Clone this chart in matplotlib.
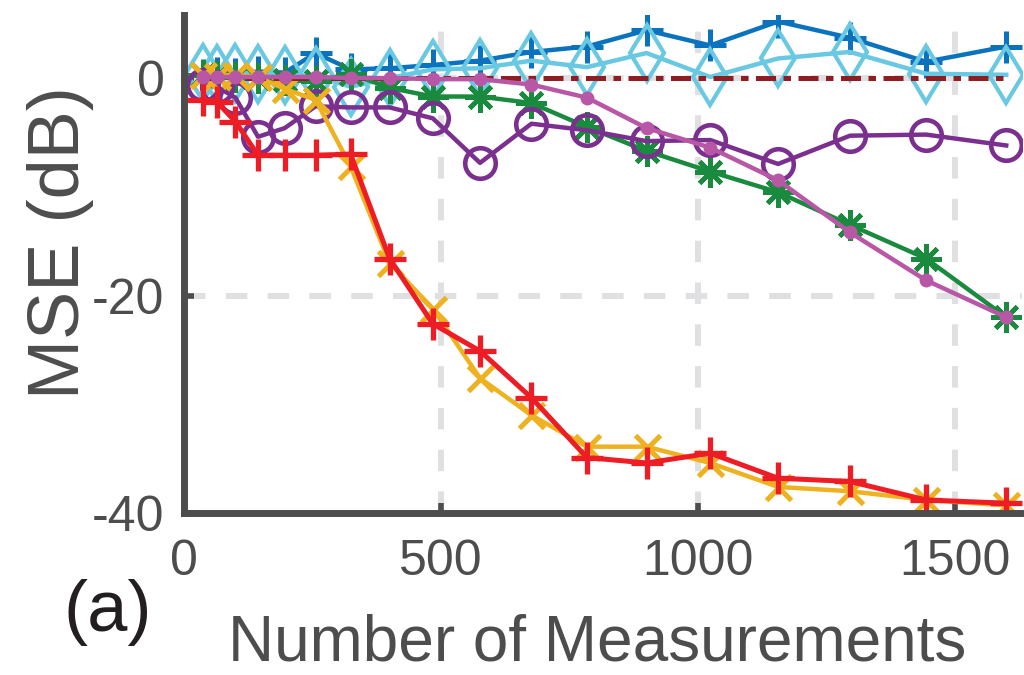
import numpy as np
import matplotlib
matplotlib.use("Agg")
import matplotlib.pyplot as plt

# measurements: m^2 for m = 6, 8, ..., 40
n_meas = [36, 64, 100, 144, 196, 256, 324, 400, 484, 576, 676, 784, 900, 1024,
          1156, 1296, 1444, 1600]

mse_blue = [0.3, 0.5, 0.4, 0.6, 0.5, 2.3, 0.8, 0.9, 1.2, 1.6, 2.4, 2.9, 4.4, 3.0,
            5.2, 3.7, 1.5, 2.9]
mse_cyan = [0.5, 0.4, 0.5, 0.4, 0.3, 0.2, -0.8, 0.0, 0.8, 0.9, 1.6, 1.0, 2.3, 0.1,
            1.8, 2.4, 0.4, 0.3]
mse_green = [0.3, 0.2, 0.1, 0.0, -0.2, -0.3, 0.4, -0.9, -1.7, -1.7, -2.3, -4.5, -6.7,
             -8.6, -10.5, -13.5, -16.6, -22.0]
mse_purple = [-0.6, -0.8, -1.8, -5.4, -4.6, -2.6, -2.7, -2.7, -3.7, -7.8, -4.2, -4.8,
              -5.8, -5.7, -7.9, -5.3, -5.2, -6.2]
mse_yellow = [0.3, 0.2, 0.3, 0.1, -1.0, -2.0, -8.1, -17.0, -21.2, -27.6, -31.0, -33.9,
              -33.9, -35.4, -37.6, -38.0, -38.8, -39.3]
mse_red = [-2.0, -2.2, -4.0, -7.1, -7.1, -7.1, -7.0, -16.6, -22.6, -25.1, -29.4, -34.9,
           -35.4, -34.5, -36.8, -37.1, -38.8, -39.1]
mse_ref = [0.0] * len(n_meas)
mse_pink = [0.1, 0.1, 0.1, 0.1, 0.1, 0.1, 0.0, 0.0, -0.1, -0.1, -0.6, -1.8, -4.6,
            -6.4, -9.4, -14.2, -18.6, -22.0]

x_ticks = [0, 500, 1000, 1500]
y_ticks = [-40, -20, 0]

plt.rcParams["axes.unicode_minus"] = False
plt.rcParams["font.family"] = ["Liberation Sans", "DejaVu Sans"]
grey = "#4d4d4d"

fig = plt.figure(figsize=(10.24, 6.75), dpi=100)
ax = fig.add_axes([0.1797, 0.24, 0.818, 0.7378])

lw = 3.2
ax.plot(n_meas, mse_blue, color="#0b72bd", lw=lw, marker="+", ms=23, mew=3.6, zorder=3)
ax.plot(n_meas, mse_cyan, color="#69c8e2", lw=lw, marker="d", ms=29, mew=3.0,
        mfc="none", zorder=4)
ax.plot(n_meas, mse_green, color="#1a8a3e", lw=lw, marker=(8, 2, 0), ms=22, mew=3.4,
        zorder=5)
ax.plot(n_meas, mse_purple, color="#7b2f8e", lw=lw, marker="o", ms=22, mew=3.3,
        mfc="none", zorder=6)
ax.plot(n_meas, mse_yellow, color="#eeb120", lw=lw, marker="x", ms=18, mew=3.6, zorder=7)
ax.plot(n_meas, mse_red, color="#ee1d25", lw=lw + 0.4, marker="+", ms=23, mew=3.8,
        zorder=8)
ax.plot(n_meas, mse_ref, color="#8e1e22", lw=3.6, ls=(0, (4.0, 1.5, 1.5, 1.5)), zorder=9)
ax.plot(n_meas, mse_pink, color="#b957a7", lw=lw, marker="o", ms=10, mew=0, zorder=10)

ax.set_xlim(0, 1630)
ax.set_ylim(-40, 5.8)
ax.set_xticks(x_ticks)
ax.set_yticks(y_ticks)

ax.grid(True, color="#e0e0e2", lw=4.3, ls=(0, (3.6, 3.4)), zorder=0)
ax.set_axisbelow(True)

for side in ["top", "right"]:
    ax.spines[side].set_visible(False)
for side in ["left", "bottom"]:
    ax.spines[side].set_linewidth(5)
    ax.spines[side].set_color(grey)
    ax.spines[side].set_zorder(12)

ax.tick_params(direction="in", length=7, width=4, color=grey, labelcolor=grey,
               labelsize=36)
ax.tick_params(axis="x", pad=19)
ax.tick_params(axis="y", pad=14)

fig.text(0.583, 0.021, "Number of Measurements", fontsize=46,
         color=grey, ha="center", va="baseline")
fig.text(0.059, 0.64, "MSE (dB)", fontsize=52,
         color=grey, rotation=90, ha="center", va="center")
fig.text(0.105, 0.093, "(a)", fontsize=52,
         color="#231f20", ha="center", va="center")

fig.savefig("out.png", dpi=100)
